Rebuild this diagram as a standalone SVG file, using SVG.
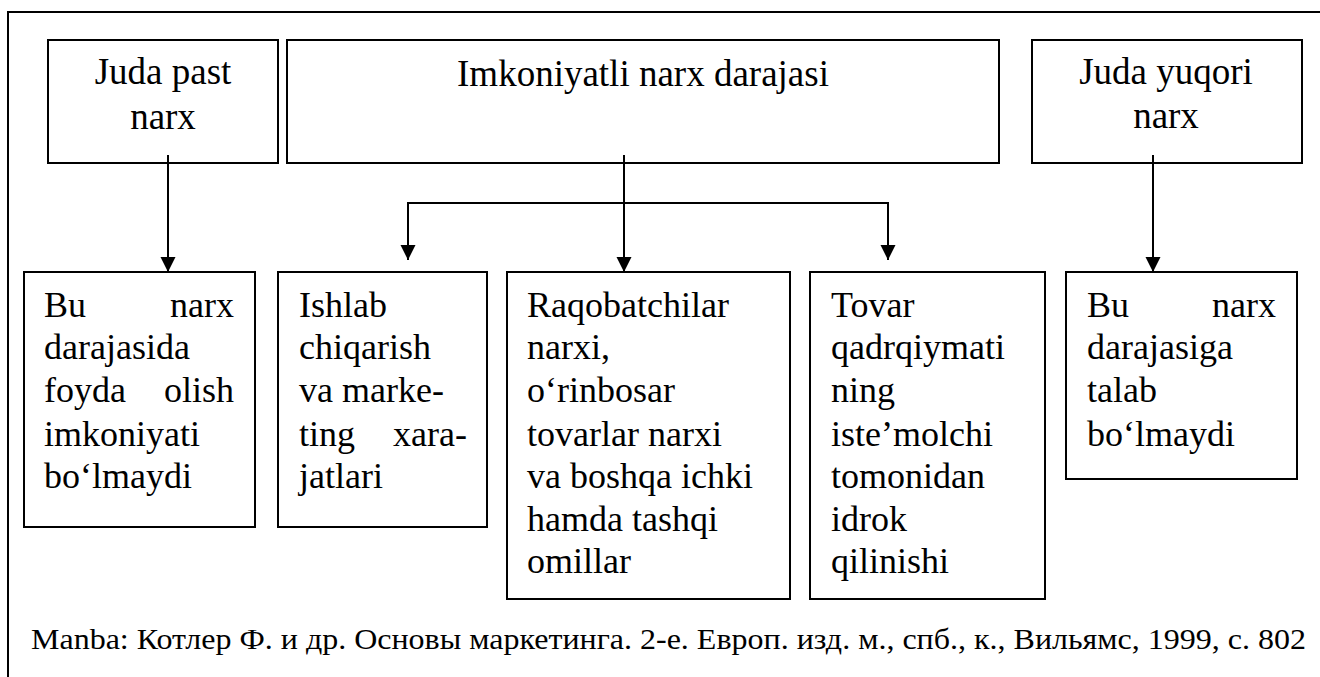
<svg xmlns="http://www.w3.org/2000/svg" width="1320" height="677" viewBox="0 0 1320 677">
<defs>
<style>
.box{fill:#fff;stroke:#000;stroke-width:2}
.con{fill:none;stroke:#000;stroke-width:2}
.tx{font-family:"Liberation Serif","Times New Roman",serif;fill:#000}
.hd{font-size:37px;text-anchor:middle}
.lo{font-size:36px}
.r{text-anchor:end}
</style>
<marker id="arr" markerUnits="userSpaceOnUse" markerWidth="16" markerHeight="16" refX="15" refY="8" orient="auto">
<path d="M0,0.5 L15,8 L0,15.5 z" fill="#000"/>
</marker>
</defs>
<rect width="1320" height="677" fill="#fff"/>
<g id="frame">
<path d="M8,677 V12 H1320" fill="none" stroke="#000" stroke-width="2"/>
</g>
<g id="n-past">
<rect class="box" x="48" y="40" width="230" height="123"/>
<text class="tx hd" x="163" y="84">Juda past</text>
<text class="tx hd" x="163" y="129">narx</text>
</g>
<g id="n-imkon">
<rect class="box" x="287" y="40" width="712" height="123"/>
<text class="tx hd" x="643" y="86">Imkoniyatli narx darajasi</text>
</g>
<g id="n-yuqori">
<rect class="box" x="1032" y="40" width="270" height="123"/>
<text class="tx hd" x="1166" y="84">Juda yuqori</text>
<text class="tx hd" x="1166" y="128">narx</text>
</g>
<g id="n-a">
<rect class="box" x="24" y="272" width="231" height="255"/>
<text class="tx lo" x="44" y="317">Bu</text>
<text class="tx lo r" x="234" y="317">narx</text>
<text class="tx lo" x="44" y="359">darajasida</text>
<text class="tx lo" x="44" y="402">foyda</text>
<text class="tx lo r" x="234" y="402">olish</text>
<text class="tx lo" x="44" y="446">imkoniyati</text>
<text class="tx lo" x="44" y="488">bo‘lmaydi</text>
</g>
<g id="n-b">
<rect class="box" x="278" y="272" width="209" height="255"/>
<text class="tx lo" x="299" y="317">Ishlab</text>
<text class="tx lo" x="299" y="359">chiqarish</text>
<text class="tx lo" x="299" y="402">va marke-</text>
<text class="tx lo" x="299" y="446">ting</text>
<text class="tx lo r" x="467" y="446">xara-</text>
<text class="tx lo" x="299" y="488">jatlari</text>
</g>
<g id="n-c">
<rect class="box" x="507" y="272" width="283" height="327"/>
<text class="tx lo" x="527" y="317">Raqobatchilar</text>
<text class="tx lo" x="527" y="359">narxi,</text>
<text class="tx lo" x="527" y="402">o‘rinbosar</text>
<text class="tx lo" x="527" y="446">tovarlar narxi</text>
<text class="tx lo" x="527" y="488">va boshqa ichki</text>
<text class="tx lo" x="527" y="531">hamda tashqi</text>
<text class="tx lo" x="527" y="573">omillar</text>
</g>
<g id="n-d">
<rect class="box" x="810" y="272" width="235" height="327"/>
<text class="tx lo" x="831" y="317">Tovar</text>
<text class="tx lo" x="831" y="359">qadrqiymati</text>
<text class="tx lo" x="831" y="402">ning</text>
<text class="tx lo" x="831" y="446">iste’molchi</text>
<text class="tx lo" x="831" y="488">tomonidan</text>
<text class="tx lo" x="831" y="531">idrok</text>
<text class="tx lo" x="831" y="573">qilinishi</text>
</g>
<g id="n-e">
<rect class="box" x="1066" y="272" width="231" height="207"/>
<text class="tx lo" x="1087" y="317">Bu</text>
<text class="tx lo r" x="1276" y="317">narx</text>
<text class="tx lo" x="1087" y="359">darajasiga</text>
<text class="tx lo" x="1087" y="402">talab</text>
<text class="tx lo" x="1087" y="446">bo‘lmaydi</text>
</g>
<g id="connectors">
<path class="con" d="M168,155 V272" marker-end="url(#arr)"/>
<path class="con" d="M624,155 V272" marker-end="url(#arr)"/>
<path class="con" d="M624,203 H408 V260" marker-end="url(#arr)"/>
<path class="con" d="M624,203 H888 V260" marker-end="url(#arr)"/>
<path class="con" d="M1153,155 V272" marker-end="url(#arr)"/>
</g>
<g id="source">
<text class="tx" x="31" y="649" font-size="30" textLength="1275" lengthAdjust="spacingAndGlyphs">Manba: Котлер Ф. и др. Основы маркетинга. 2-е. Европ. изд. м., спб., к., Вильямс, 1999, с. 802</text>
</g>
</svg>
